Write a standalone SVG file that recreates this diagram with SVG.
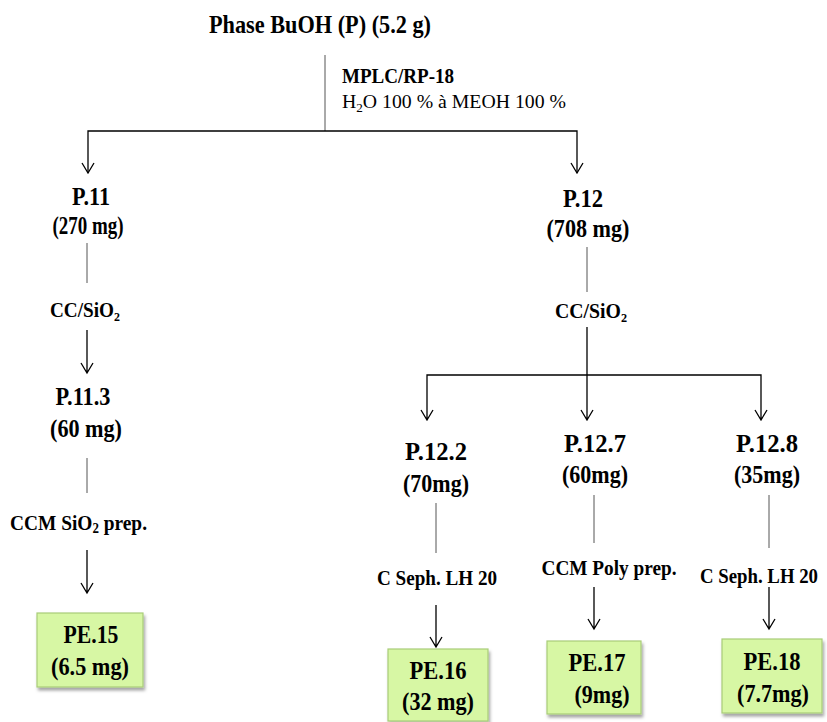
<svg xmlns="http://www.w3.org/2000/svg" width="827" height="722" viewBox="0 0 827 722">
<style>
.b{font-family:"Liberation Serif","Times New Roman",serif;font-weight:bold;fill:#000}
.n{font-family:"Liberation Serif","Times New Roman",serif;font-weight:normal;fill:#000}
.lbl{font-size:25px}
.m{font-size:21px}
.ln{stroke:#000;stroke-width:1.3;fill:none}
.gl{stroke:#555;stroke-width:1;fill:none}
.box{fill:#d7f7a4;stroke:#a8cc78;stroke-width:1.2}
</style>
<defs>
<filter id="sh" x="-10%" y="-10%" width="130%" height="140%">
<feDropShadow dx="1.5" dy="3" stdDeviation="1.5" flood-color="#000" flood-opacity="0.35"/>
</filter>
</defs>

<g id="connectors">
<line class="gl" x1="325" y1="55" x2="325" y2="131"/>
<polyline class="ln" points="88,173 88,131 577,131 577,173"/>
<path class="ln" d="M82,163 L88,173 L94,163 M571,163 L577,173 L583,163"/>
<line class="gl" x1="87" y1="243" x2="87" y2="283"/>
<path class="ln" d="M87,330 V373 M81,363 L87,373 L93,363"/>
<line class="gl" x1="87" y1="458" x2="87" y2="493"/>
<path class="ln" d="M87,550 V593 M81,583 L87,593 L93,583"/>
<line class="gl" x1="587" y1="247" x2="587" y2="292"/>
<path class="ln" d="M587,327 V420 M427,420 V375 H761 V420 M421,410 L427,420 L433,410 M581,410 L587,420 L593,410 M755,410 L761,420 L767,410"/>
<line class="gl" x1="436" y1="503" x2="436" y2="553"/>
<line class="gl" x1="594" y1="495" x2="594" y2="543"/>
<line class="gl" x1="769" y1="495" x2="769" y2="548"/>
<path class="ln" d="M436,605 V647 M430,637 L436,647 L442,637"/>
<path class="ln" d="M594,587 V629 M588,619 L594,629 L600,619"/>
<path class="ln" d="M769,587 V629 M763,619 L769,629 L775,619"/>
</g>

<g id="root">
<text class="b" x="320" y="33" font-size="26" text-anchor="middle" textLength="222" lengthAdjust="spacingAndGlyphs">Phase BuOH (P) (5.2 g)</text>
</g>
<g id="label-mplc">
<text class="b" x="342" y="83" font-size="20" textLength="112" lengthAdjust="spacingAndGlyphs">MPLC/RP-18</text>
<text class="n" x="342" y="108" font-size="19.5" textLength="224" lengthAdjust="spacingAndGlyphs">H<tspan font-size="13" dy="4">2</tspan><tspan dy="-4">O 100 % à MEOH 100 %</tspan></text>
</g>

<g id="P11">
<text class="b lbl" x="91" y="205" text-anchor="middle" textLength="38" lengthAdjust="spacingAndGlyphs">P.11</text>
<text class="b lbl" x="88" y="234" text-anchor="middle" textLength="71" lengthAdjust="spacingAndGlyphs">(270 mg)</text>
</g>
<g id="label-cc1">
<text class="b m" x="50" y="317" textLength="70" lengthAdjust="spacingAndGlyphs">CC/SiO<tspan font-size="13" dy="4">2</tspan></text>
</g>
<g id="P11.3">
<text class="b lbl" x="83" y="405" text-anchor="middle" textLength="55" lengthAdjust="spacingAndGlyphs">P.11.3</text>
<text class="b lbl" x="86" y="437" text-anchor="middle" textLength="72" lengthAdjust="spacingAndGlyphs">(60 mg)</text>
</g>
<g id="label-ccm1">
<text class="b" x="10" y="530" font-size="21" textLength="137" lengthAdjust="spacingAndGlyphs">CCM SiO<tspan font-size="14" dy="3">2</tspan><tspan dy="-3"> prep.</tspan></text>
</g>
<g id="PE15">
<rect class="box" x="37" y="613" width="106" height="74" filter="url(#sh)"/>
<text class="b lbl" x="91" y="643" text-anchor="middle" textLength="55" lengthAdjust="spacingAndGlyphs">PE.15</text>
<text class="b lbl" x="90" y="675" text-anchor="middle" textLength="78" lengthAdjust="spacingAndGlyphs">(6.5 mg)</text>
</g>

<g id="P12">
<text class="b lbl" x="583" y="207" text-anchor="middle" textLength="40" lengthAdjust="spacingAndGlyphs">P.12</text>
<text class="b lbl" x="588" y="237" text-anchor="middle" textLength="83" lengthAdjust="spacingAndGlyphs">(708 mg)</text>
</g>
<g id="label-cc2">
<text class="b m" x="555" y="318" textLength="72" lengthAdjust="spacingAndGlyphs">CC/SiO<tspan font-size="13" dy="4">2</tspan></text>
</g>

<g id="P12.2">
<text class="b lbl" x="436" y="460" text-anchor="middle" textLength="62" lengthAdjust="spacingAndGlyphs">P.12.2</text>
<text class="b lbl" x="436" y="492" text-anchor="middle" textLength="66" lengthAdjust="spacingAndGlyphs">(70mg)</text>
</g>
<g id="P12.7">
<text class="b lbl" x="595" y="452" text-anchor="middle" textLength="62" lengthAdjust="spacingAndGlyphs">P.12.7</text>
<text class="b lbl" x="595" y="483" text-anchor="middle" textLength="66" lengthAdjust="spacingAndGlyphs">(60mg)</text>
</g>
<g id="P12.8">
<text class="b lbl" x="767" y="452" text-anchor="middle" textLength="62" lengthAdjust="spacingAndGlyphs">P.12.8</text>
<text class="b lbl" x="767" y="483" text-anchor="middle" textLength="66" lengthAdjust="spacingAndGlyphs">(35mg)</text>
</g>

<g id="label-seph1">
<text class="b" x="437" y="585" font-size="21" text-anchor="middle" textLength="120" lengthAdjust="spacingAndGlyphs">C Seph. LH 20</text>
</g>
<g id="label-ccm2">
<text class="b" x="609" y="575" font-size="21" text-anchor="middle" textLength="135" lengthAdjust="spacingAndGlyphs">CCM Poly prep.</text>
</g>
<g id="label-seph2">
<text class="b" x="759" y="583" font-size="21" text-anchor="middle" textLength="118" lengthAdjust="spacingAndGlyphs">C Seph. LH 20</text>
</g>

<g id="PE16">
<rect class="box" x="388" y="649" width="100" height="72" filter="url(#sh)"/>
<text class="b lbl" x="438" y="679" text-anchor="middle" textLength="57" lengthAdjust="spacingAndGlyphs">PE.16</text>
<text class="b lbl" x="438" y="710" text-anchor="middle" textLength="72" lengthAdjust="spacingAndGlyphs">(32 mg)</text>
</g>
<g id="PE17">
<rect class="box" x="547" y="641" width="94" height="73" filter="url(#sh)"/>
<text class="b lbl" x="597" y="671" text-anchor="middle" textLength="57" lengthAdjust="spacingAndGlyphs">PE.17</text>
<text class="b lbl" x="602" y="703" text-anchor="middle" textLength="55" lengthAdjust="spacingAndGlyphs">(9mg)</text>
</g>
<g id="PE18">
<rect class="box" x="722" y="639" width="100" height="74" filter="url(#sh)"/>
<text class="b lbl" x="772" y="670" text-anchor="middle" textLength="57" lengthAdjust="spacingAndGlyphs">PE.18</text>
<text class="b lbl" x="773" y="702" text-anchor="middle" textLength="72" lengthAdjust="spacingAndGlyphs">(7.7mg)</text>
</g>
</svg>
